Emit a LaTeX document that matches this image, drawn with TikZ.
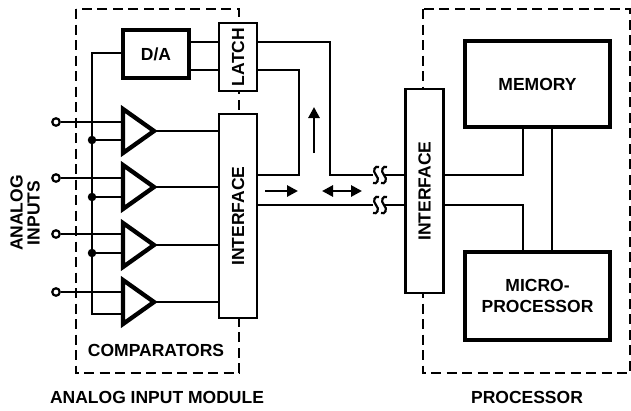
\documentclass[tikz,border=0pt]{standalone}
\usepackage{fontspec}
\setmainfont{Liberation Sans}
\usetikzlibrary{arrows.meta}
\begin{document}
\begin{tikzpicture}[x=1pt,y=-1pt,
  lbl/.style={font=\fontsize{17.5}{17}\selectfont\bfseries},
  ln/.style={line width=2.9pt},
  dashbox/.style={line width=2.2pt,dash pattern=on 10pt off 5.5pt},
  thinbox/.style={draw,fill=white,line width=2.9pt,inner sep=0pt,font=\fontsize{17.5}{17}\selectfont\bfseries},
  thickbox/.style={draw,fill=white,line width=4.8pt,inner sep=0pt,font=\fontsize{17.5}{21}\selectfont\bfseries,align=center},
  tri/.style={line width=4.3pt,line join=miter},
  pin/.style={circle,draw,fill=white,line width=2.2pt,inner sep=0pt,minimum size=7.5pt},
  dot/.style={circle,fill=black,inner sep=0pt,minimum size=8.5pt},
  arr/.style={line width=2.9pt,-{Triangle[length=11pt,width=11pt]}},
  darr/.style={line width=2.9pt,{Triangle[length=11pt,width=11pt]}-{Triangle[length=11pt,width=11pt]}}]
\useasboundingbox (0,0) rectangle (631,410);
% dashed module boxes
\draw[dashbox] (76,9) rectangle (239,373);
\draw[dashbox] (423,9) rectangle (630,373);
% boxes
\node[thickbox,minimum width=66pt,minimum height=48pt] (dac) at (156,54) {D/A};
\node[thinbox,minimum width=68pt,minimum height=38pt,rotate=90] (latch) at (238,57) {LATCH};
\node[thinbox,minimum width=204pt,minimum height=38pt,rotate=90] (ifl) at (238,216) {INTERFACE};
\node[thinbox,minimum width=204pt,minimum height=38pt,rotate=90] (ifr) at (424.5,191) {INTERFACE};
\node[thickbox,minimum width=145pt,minimum height=86pt] (mem) at (537.5,84) {MEMORY};
\node[thickbox,minimum width=145pt,minimum height=88pt] (mpu) at (537.5,296) {MICRO-\\PROCESSOR};
% comparators
\foreach \i/\yc/\ua/\lb in {1/131/122/140, 2/187/178/197, 3/245/234/253, 4/302/292/314}{
  \draw[tri] (123,\yc-22) -- (154,\yc) -- (123,\yc+22) -- cycle;
  \coordinate (ta\i) at (123,\ua);
  \coordinate (tb\i) at (123,\lb);
  \coordinate (to\i) at (154,\yc);
  \node[pin] (in\i) at (56,\ua) {};
  \draw[ln] (in\i) -- (ta\i);
  \draw[ln] (to\i) -- (ifl.north |- to\i);
}
% reference bus
\coordinate (busTop) at (92,53);
\draw[ln] (dac.west |- busTop) -- (busTop) -- (busTop |- tb4) -- (tb4);
\foreach \i in {1,2,3}{
  \node[dot] (d\i) at (busTop |- tb\i) {};
  \draw[ln] (d\i) -- (tb\i);
}
% D/A to latch
\draw[ln] (dac.east |- 0,42) -- (latch.north |- 0,42);
\draw[ln] (dac.east |- 0,70) -- (latch.north |- 0,70);
% latch outputs / buses
\coordinate (c1) at (330,42);
\coordinate (c2) at (299,70);
\draw[ln] (latch.south |- c1) -- (c1) -- (c1 |- 0,175) -- (ifr.north |- 0,175);
\draw[ln] (latch.south |- c2) -- (c2) -- (c2 |- 0,175) -- (ifl.south |- 0,175);
\draw[ln] (ifl.south |- 0,205) -- (ifr.north |- 0,205);
% squiggle breaks
\foreach \y in {175,205}{
  \fill[white] (373,\y-3) rectangle (385,\y+3);
  \foreach \x in {376,384}{
    \draw[line width=2.2pt] (\x+3,\y-8) .. controls (\x-1,\y-10) and (\x-4,\y-4) .. (\x,\y) .. controls (\x+4,\y+4) and (\x+1,\y+10) .. (\x-3,\y+8);
  }
}
% arrows
\draw[arr] (265,191) -- (298,191);
\draw[darr] (322,191) -- (362,191);
\draw[arr] (314,153) -- (314,107);
% processor side
\coordinate (p1) at (523,175);
\coordinate (p2) at (523,205);
\draw[ln] (ifr.south |- p1) -- (p1) -- (p1 |- mem.south);
\draw[ln] (ifr.south |- p2) -- (p2) -- (p2 |- mpu.north);
\draw[ln] (mem.south -| 552,0) -- (mpu.north -| 552,0);
% labels
\node[lbl] (cmp) at (156,350) {COMPARATORS};
\node[lbl] (aim) at (157,397) {ANALOG INPUT MODULE};
\node[lbl] (proc) at (527,397) {PROCESSOR};
\node[lbl,rotate=90,align=center] (ain) at (25,213) {ANALOG\\INPUTS};
\end{tikzpicture}
\end{document}
